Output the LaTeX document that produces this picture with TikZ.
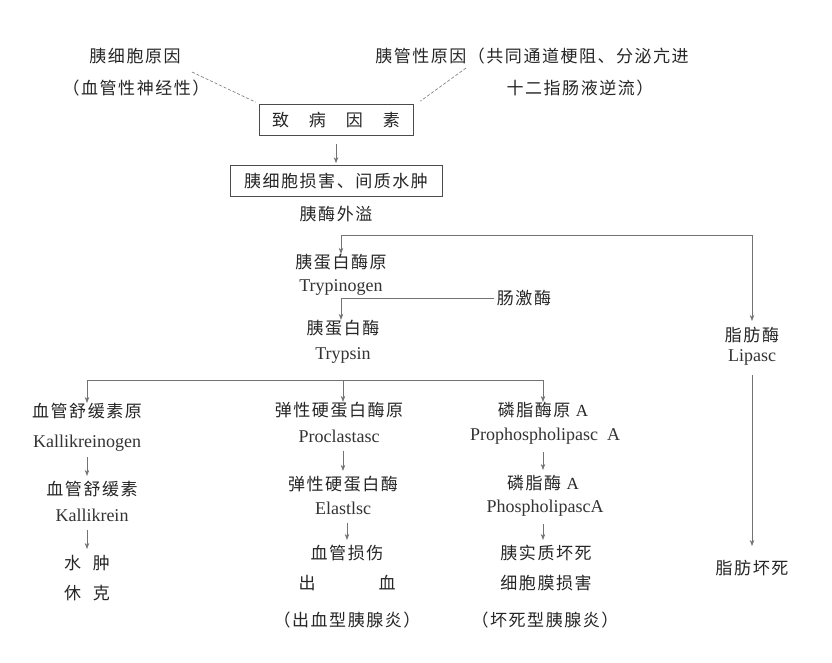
\documentclass[tikz,border=0pt]{standalone}
\usepackage{fontspec}
\setmainfont{Liberation Serif}
\newfontfamily\cjk[LetterSpace=9]{Noto Sans CJK SC}
\usetikzlibrary{arrows.meta}
\begin{document}
\begin{tikzpicture}[x=1pt,y=-1pt,
  cn/.style={font=\cjk\fontsize{17}{20}\selectfont, inner sep=0pt, text=black!85},
  en/.style={font=\fontsize{18}{21}\selectfont, inner sep=0pt, text=black!80},
  box/.style={draw=black!70, line width=0.7pt, minimum height=31pt, inner sep=0pt},
  conn/.style={draw=black!55, line width=0.6pt},
  arr/.style={conn, -{Stealth[length=6pt,width=4.5pt]}},
  dsh/.style={conn, dash pattern=on 3pt off 2pt}]
\useasboundingbox[fill=white] (0,0) rectangle (832,662);

% top causes
\node[cn] (a1) at (135,56) {胰细胞原因};
\node[cn] (a2) at (136,88) {（血管性神经性）};
\node[cn] (b1) at (532,56) {胰管性原因（共同通道梗阻、分泌亢进};
\node[cn] (b2) at (580,88) {十二指肠液逆流）};
\coordinate (a2a) at (192,72);
\coordinate (b1a) at (466,68);

\node[box, cn, minimum width=154pt] (box1) at (336,120) {致\hspace{20pt}病\hspace{20pt}因\hspace{20pt}素};
\node[box, cn, minimum width=212pt] (box2) at (336,181) {胰细胞损害、间质水肿};
\node[cn] (c) at (336,214) {胰酶外溢};

\draw[dsh] (a2a) -- ([xshift=-3pt,yshift=2pt]box1.north west);
\draw[dsh] (b1a) -- ([xshift=7pt,yshift=3pt]box1.north east);
\draw[arr, shorten <=8pt, shorten >=2pt] (box1) -- (box2);

% trypsinogen
\coordinate (j1) at (341,235);
\node[cn] (d1) at (341,262) {胰蛋白酶原};
\node[en] (d2) at (341,287) {Trypinogen};
\draw[arr] (j1) -- (j1 |- d1.north);

% lipase branch
\node[cn] (l1) at (752,335) {脂肪酶};
\node[en] (l2) at (752,357) {Lipasc};
\node[cn] (l3) at (752,568) {脂肪坏死};
\draw[arr, shorten >=6pt] (j1) -| (l1.north);
\draw[arr, shorten <=10pt, shorten >=14pt] (l2) -- (l3);

% enterokinase
\coordinate (j2) at (341,298);
\node[cn] (k) at (524,298) {肠激酶};
\node[cn] (e1) at (343,328) {胰蛋白酶};
\node[en] (e2) at (343,355) {Trypsin};
\draw[conn] (j2) -- ([xshift=-3pt]k.west);
\draw[arr] (j2) -- (j2 |- e1.north);

% bus
\coordinate (jL) at (87,380);
\coordinate (jM) at (343,380);
\coordinate (jR) at (543,380);
\draw[conn] (jL) -- (jR);

% left column
\node[cn] (f1) at (87,411) {血管舒缓素原};
\node[en] (f2) at (87,443) {Kallikreinogen};
\node[cn] (f3) at (92,489) {血管舒缓素};
\node[en] (f4) at (92,515) {Kallikrein};
\node[cn] (f5) at (87,563) {水\hspace{12pt}肿};
\node[cn] (f6) at (87,593) {休\hspace{12pt}克};
\draw[arr] (jL) -- (jL |- f1.north);
\draw[arr, shorten <=6pt, shorten >=5pt] (f2.south) -- (f2.south |- f3.north);
\draw[arr, shorten <=8pt, shorten >=6pt] (jL |- f4.south) -- (jL |- f5.north);

% middle column
\node[cn] (g1) at (339,410) {弹性硬蛋白酶原};
\node[en] (g2) at (339,436) {Proclastasc};
\node[cn] (g3) at (343,484) {弹性硬蛋白酶};
\node[en] (g4) at (343,508) {Elastlsc};
\node[cn] (g5) at (347,553) {血管损伤};
\node[cn] (g6) at (347,583) {出\hspace{63pt}血};
\node[cn] (g7) at (347,620) {（出血型胰腺炎）};
\draw[arr] (jM) -- (jM |- g1.north);
\draw[arr, shorten <=8pt, shorten >=5pt] (g3 |- g2.south) -- (g3.north);
\draw[arr, shorten <=8pt, shorten >=5pt] (g5 |- g4.south) -- (g5.north);

% right column
\node[cn] (h1) at (543,410) {磷脂酶原 {\rmfamily A}};
\node[en] (h2) at (545,436) {Prophospholipasc\ \ A};
\node[cn] (h3) at (543,483) {磷脂酶 {\rmfamily A}};
\node[en] (h4) at (545,508) {PhospholipascA};
\node[cn] (h5) at (546,553) {胰实质坏死};
\node[cn] (h6) at (546,583) {细胞膜损害};
\node[cn] (h7) at (545,620) {（坏死型胰腺炎）};
\draw[arr] (jR) -- (jR |- h1.north);
\draw[arr, shorten <=8pt, shorten >=5pt] (jR |- h2.south) -- (jR |- h3.north);
\draw[arr, shorten <=8pt, shorten >=5pt] (jR |- h4.south) -- (jR |- h5.north);
\end{tikzpicture}
\end{document}
